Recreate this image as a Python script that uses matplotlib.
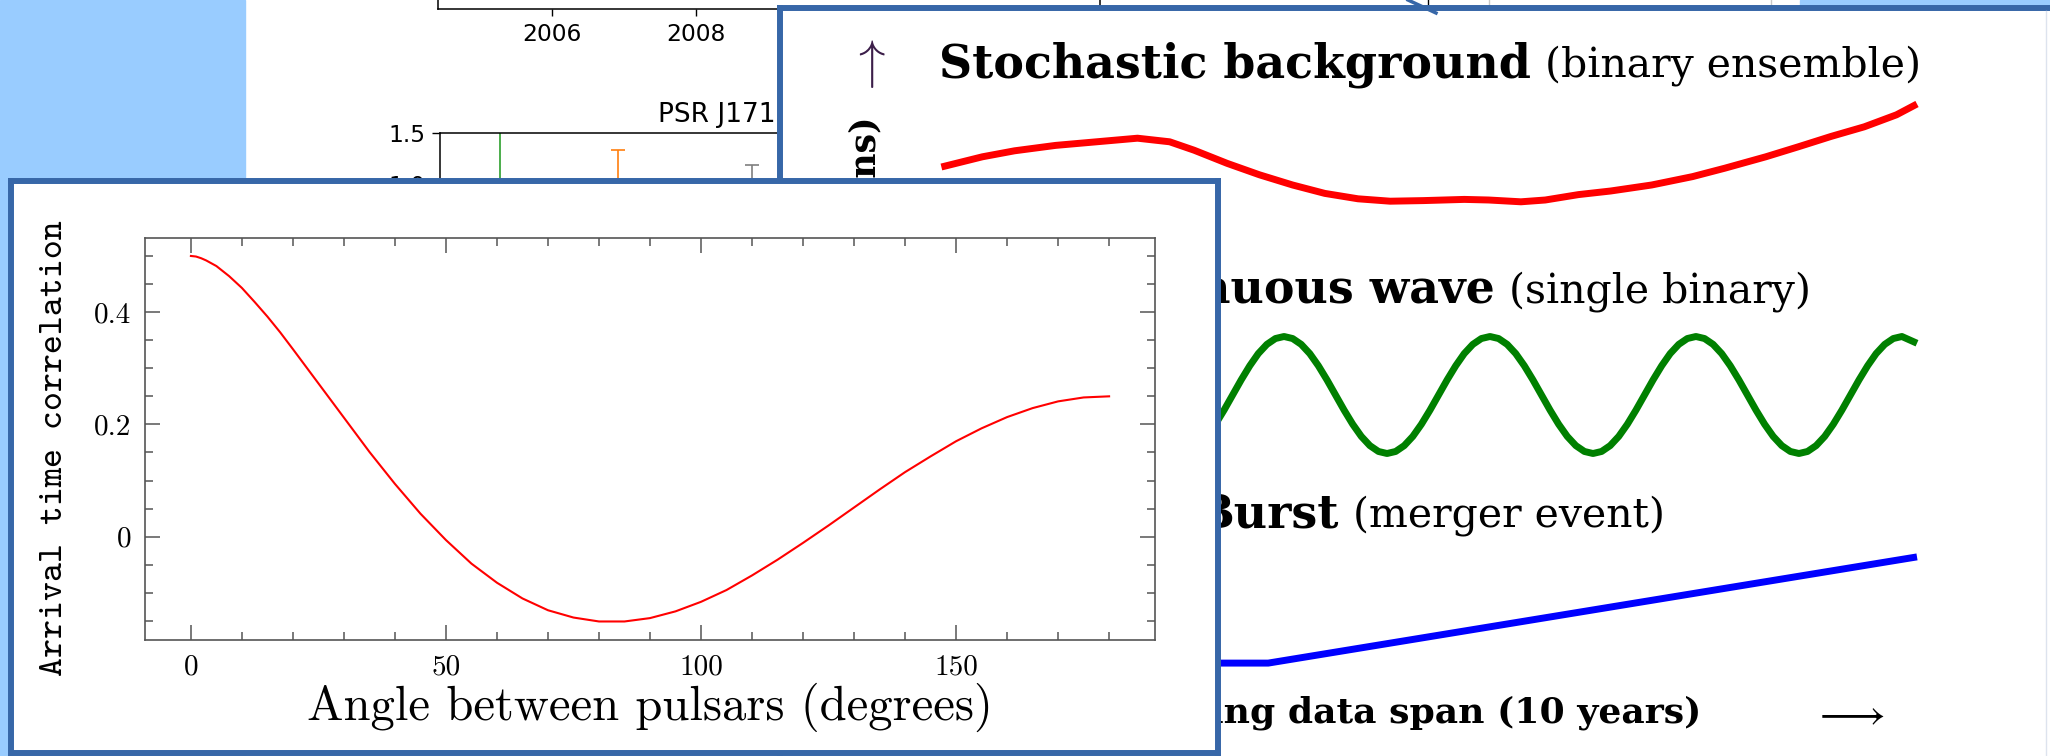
import matplotlib.pyplot as plt
from matplotlib.ticker import MultipleLocator
from matplotlib.patches import Rectangle
from matplotlib.lines import Line2D

plt.rcParams['mathtext.fontset'] = 'cm'
plt.rcParams['axes.unicode_minus'] = False

W, H = 2050, 756

# Hellings-Downs inset (angle in degrees, correlation)
hd_angle = [0, 1, 2, 3, 4, 5, 7.5, 10, 12.5, 15, 17.5, 20, 25, 30, 35, 40, 45, 50, 55, 60,
            65, 70, 75, 80, 85, 90, 95, 100, 105, 110, 115, 120, 125, 130, 135, 140, 145,
            150, 155, 160, 165, 170, 175, 180]
hd_corr = [0.500, 0.499, 0.496, 0.492, 0.487, 0.482, 0.464, 0.443, 0.418, 0.392, 0.364,
           0.334, 0.273, 0.212, 0.151, 0.094, 0.041, -0.006, -0.048, -0.082, -0.110,
           -0.131, -0.144, -0.151, -0.151, -0.145, -0.133, -0.116, -0.095, -0.069, -0.041,
           -0.011, 0.020, 0.052, 0.084, 0.115, 0.143, 0.170, 0.193, 0.213, 0.229, 0.241,
           0.248, 0.250]
hd_xticks = [0, 50, 100, 150]
hd_yticks = [0, 0.2, 0.4]
hd_yticklabels = ['0', '0.2', '0.4']

# background timing plot (mostly hidden)
year_ticks = [2006, 2008]
psr_yticks = [1.0, 1.5]
err_year = [2005.28, 2006.92, 2008.78]
err_val = [0.30, 0.50, 0.60]
err_size = [1.30, 0.83, 0.59]
err_colors = ['#2ca02c', '#ff7f0e', '#7f7f7f']

# signal sketches, time in years over a 10 year span
sb_t = [0.00, 0.42, 0.75, 1.17, 1.59, 2.01, 2.34, 2.59, 2.93, 3.26, 3.60, 3.93, 4.27, 4.60,
        4.94, 5.36, 5.61, 5.94, 6.19, 6.53, 6.86, 7.28, 7.70, 8.03, 8.45, 8.79, 9.12, 9.46,
        9.79, 10.00]
sb_v = [-0.20, -0.03, 0.07, 0.16, 0.22, 0.28, 0.22, 0.08, -0.14, -0.33, -0.50, -0.64, -0.73,
        -0.77, -0.76, -0.74, -0.75, -0.78, -0.75, -0.66, -0.60, -0.50, -0.36, -0.22, -0.03,
        0.14, 0.31, 0.47, 0.67, 0.85]

cw_t = [0.000, 0.082, 0.170, 0.258, 0.346, 0.434, 0.522, 0.610, 0.698, 0.786, 0.874, 0.962,
        1.050, 1.137, 1.225, 1.313, 1.401, 1.489, 1.577, 1.665, 1.753, 1.841, 1.929, 2.017,
        2.105, 2.193, 2.281, 2.369, 2.457, 2.545, 2.633, 2.721, 2.809, 2.897, 2.985, 3.073,
        3.161, 3.248, 3.336, 3.424, 3.512, 3.600, 3.688, 3.776, 3.864, 3.952, 4.040, 4.128,
        4.216, 4.304, 4.392, 4.480, 4.568, 4.656, 4.744, 4.832, 4.920, 5.008, 5.096, 5.184,
        5.272, 5.359, 5.447, 5.535, 5.623, 5.711, 5.799, 5.887, 5.975, 6.063, 6.151, 6.239,
        6.327, 6.415, 6.503, 6.591, 6.679, 6.767, 6.855, 6.943, 7.031, 7.119, 7.207, 7.295,
        7.383, 7.470, 7.558, 7.646, 7.734, 7.822, 7.910, 7.998, 8.086, 8.174, 8.262, 8.350,
        8.438, 8.526, 8.614, 8.702, 8.790, 8.878, 8.966, 9.054, 9.142, 9.230, 9.318, 9.406,
        9.494, 9.581, 9.669, 9.757, 9.845, 10.000]
cw_v = [-0.39, -0.552, -0.675, -0.753, -0.78, -0.753, -0.675, -0.552, -0.39, -0.202, 0, 0.202,
        0.39, 0.552, 0.675, 0.753, 0.78, 0.753, 0.675, 0.552, 0.39, 0.202, 0, -0.202,
        -0.39, -0.552, -0.675, -0.753, -0.78, -0.753, -0.675, -0.552, -0.39, -0.202, 0, 0.202,
        0.39, 0.552, 0.675, 0.753, 0.78, 0.753, 0.675, 0.552, 0.39, 0.202, 0, -0.202,
        -0.39, -0.552, -0.675, -0.753, -0.78, -0.753, -0.675, -0.552, -0.39, -0.202, 0, 0.202,
        0.39, 0.552, 0.675, 0.753, 0.78, 0.753, 0.675, 0.552, 0.39, 0.202, 0, -0.202,
        -0.39, -0.552, -0.675, -0.753, -0.78, -0.753, -0.675, -0.552, -0.39, -0.202, 0, 0.202,
        0.39, 0.552, 0.675, 0.753, 0.78, 0.753, 0.675, 0.552, 0.39, 0.202, 0, -0.202,
        -0.39, -0.552, -0.675, -0.753, -0.78, -0.753, -0.675, -0.552, -0.39, -0.202, 0, 0.202,
        0.39, 0.552, 0.675, 0.753, 0.78, 0.69]

burst_t = [0.00, 3.35, 10.00]
burst_v = [-0.59, -0.59, 0.59]

BORDER = '#3767a8'


def box(l, t, r, b):
    # pixel box (from top-left) -> figure fraction
    return [l / W, 1 - b / H, (r - l) / W, (b - t) / H]


def fx(x):
    return x / W


def fy(y):
    return 1 - y / H


fig = plt.figure(figsize=(20.5, 7.56), dpi=100)
fig.patch.set_facecolor('white')
renderer = fig.canvas.get_renderer()

fig.add_artist(Rectangle((0, 0), fx(245), 1, transform=fig.transFigure,
                         color='#99ccff', zorder=0))
fig.add_artist(Rectangle((fx(1800), fy(10)), 1 - fx(1800), 10 / H,
                         transform=fig.transFigure, color='#99ccff', zorder=0))

# ---- background figure (timing residuals), mostly covered
ax_top = fig.add_axes(box(438, -300, 1100, 9))
ax_top.set_zorder(1)
ax_top.set_xlim(2004.417, 2013.61)
ax_top.set_xticks(year_ticks)
ax_top.set_yticks([])
ax_top.tick_params(axis='x', labelsize=16.8, length=5, width=1, pad=5)
for s in ax_top.spines.values():
    s.set_linewidth(1.1)

ax_psr = fig.add_axes(box(440, 133, 1100, 420))
ax_psr.set_zorder(1)
ax_psr.set_xlim(2004.444, 2013.61)
ax_psr.set_ylim(-1.31, 1.5)
ax_psr.set_yticks(psr_yticks)
ax_psr.set_xticks([])
ax_psr.tick_params(labelsize=16.8, length=5.5, width=1, pad=5)
for s in ax_psr.spines.values():
    s.set_linewidth(1.1)
for yr, v, e, c in zip(err_year, err_val, err_size, err_colors):
    ax_psr.errorbar([yr], [v], yerr=[e], fmt='none', ecolor=c, elinewidth=1.2,
                    capsize=5, capthick=1.2)
ax_psr.set_title('PSR J1713+0747', fontsize=19, pad=8)

# decorations peeking above the right panel
for xx, cc in [(1428, 'black'), (1489, '#c8c8c8'), (1771, '#c8c8c8')]:
    fig.add_artist(Line2D([fx(xx), fx(xx)], [fy(0), fy(8)], transform=fig.transFigure,
                          color=cc, lw=1, zorder=2))

# ---- right panel: signal types
axr = fig.add_axes(box(780, 8, 2090, 800))
axr.set_zorder(5)
axr.set_facecolor('white')
axr.set_xticks([])
axr.set_yticks([])
for s in axr.spines.values():
    s.set_color(BORDER)
    s.set_linewidth(4.3)

fig.add_artist(Line2D([fx(1408), fx(1436)], [fy(0), fy(13)], transform=fig.transFigure,
                      color=BORDER, lw=2.5, zorder=6))
fig.add_artist(Line2D([fx(2046), fx(2046)], [fy(11), fy(756)], transform=fig.transFigure,
                      color='#dde3ee', lw=1, zorder=6))


def label_line(x_right, y, bold, regular, gap=14):
    # bold name followed by a regular description, right end at x_right
    kw = dict(transform=fig.transFigure, va='baseline', ha='left',
              fontfamily='DejaVu Serif', color='black')
    t1 = axr.text(0, fy(y), bold, fontweight='bold', fontsize=33, **kw)
    t2 = axr.text(0, fy(y), regular, fontsize=29.5, **kw)
    w1 = t1.get_window_extent(renderer).width
    w2 = t2.get_window_extent(renderer).width
    x0 = x_right - w2 - gap - w1
    t1.set_x(fx(x0))
    t2.set_x(fx(x0 + w1 + gap))


label_line(1921, 77, 'Stochastic background', '(binary ensemble)')
label_line(1811, 302, 'Continuous wave', '(single binary)')
label_line(1665, 527, 'Burst', '(merger event)')

axr.text(fx(1701), fy(723), 'Timing data span (10 years)', transform=fig.transFigure,
         fontfamily='DejaVu Serif', fontweight='bold', fontsize=26, ha='right',
         va='baseline')
axr.text(fx(1848), fy(713), r'$\longrightarrow$', transform=fig.transFigure,
         fontsize=30, ha='center', va='center')
axr.text(fx(867), fy(64), r'$\uparrow$', transform=fig.transFigure,
         fontsize=38, ha='center', va='center', color='#3c1f4a')
axr.text(fx(866), fy(117), 'Timing residual (tens of ns)', transform=fig.transFigure,
         fontfamily='DejaVu Serif', fontweight='bold', fontsize=25, rotation=90,
         ha='center', va='top')

sig_axes = []
for top, bottom in [(95, 215), (320, 470), (520, 700)]:
    a = fig.add_axes(box(941.4, top, 1917, bottom))
    a.set_zorder(6)
    a.set_xlim(0, 10)
    a.set_ylim(-1, 1)
    a.axis('off')
    sig_axes.append(a)

line_kw = dict(lw=5, solid_capstyle='butt', solid_joinstyle='round', clip_on=False)
sig_axes[0].plot(sb_t, sb_v, color='#ff0000', **line_kw)
sig_axes[1].plot(cw_t, cw_v, color='#008000', **line_kw)
sig_axes[2].plot(burst_t, burst_v, color='#0000ff', **line_kw)

# ---- left panel: Hellings-Downs curve
axl = fig.add_axes(box(11, 181, 1218, 753))
axl.set_zorder(10)
axl.set_facecolor('white')
axl.set_xticks([])
axl.set_yticks([])
for s in axl.spines.values():
    s.set_color(BORDER)
    s.set_linewidth(4.3)

ax = fig.add_axes(box(145, 238, 1155, 640))
ax.set_zorder(11)
ax.set_facecolor('white')
ax.plot(hd_angle, hd_corr, color='#ff0000', lw=1.5)
ax.set_xlim(-9, 189)
ax.set_ylim(-0.184, 0.532)
ax.set_xticks(hd_xticks)
ax.set_xticklabels([str(v) for v in hd_xticks])
ax.set_yticks(hd_yticks)
ax.set_yticklabels(hd_yticklabels)
ax.xaxis.set_minor_locator(MultipleLocator(10))
ax.yaxis.set_minor_locator(MultipleLocator(0.05))
ax.tick_params(which='both', direction='in', top=True, right=True, color='#555555',
               width=1.1, pad=10)
ax.tick_params(which='major', length=11)
ax.tick_params(which='minor', length=5.8)
for lab in ax.get_xticklabels() + ax.get_yticklabels():
    lab.set_fontfamily('cmr10')
    lab.set_fontsize(21)
for s in ax.spines.values():
    s.set_color('#555555')
    s.set_linewidth(1.2)

ax.set_xlabel('Angle between pulsars (degrees)', fontfamily='cmr10', fontsize=35)
ax.xaxis.set_label_coords(0.5, -0.167)
ax.xaxis.label.set_va('center')
ax.set_ylabel('Arrival time correlation', fontfamily='cmtt10', fontsize=26)
ax.yaxis.set_label_coords(-0.089, 0.478)
ax.yaxis.label.set_va('center')

fig.savefig('out.png', dpi=100, facecolor='white')
